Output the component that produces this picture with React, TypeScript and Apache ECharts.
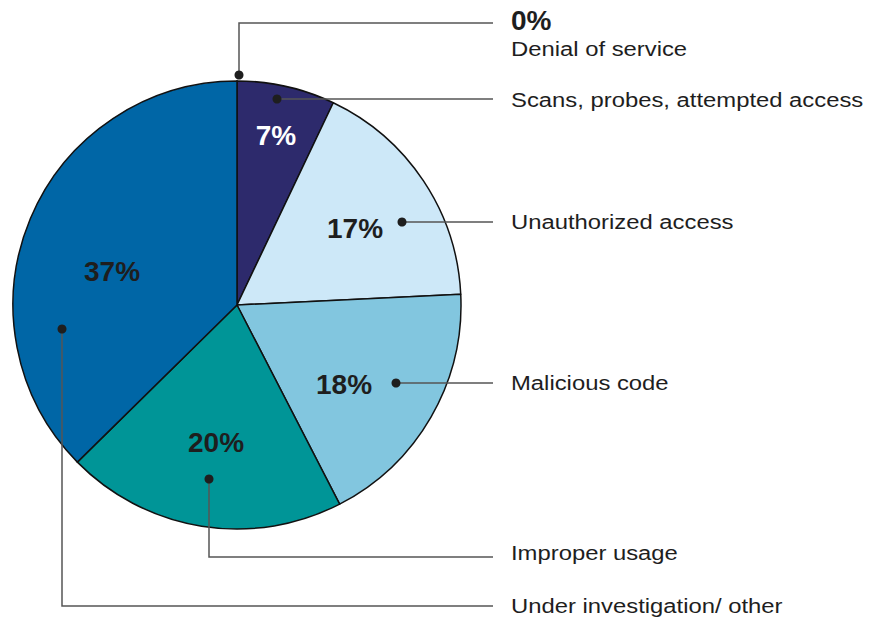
import React, { useEffect, useRef } from "react";
import * as echarts from "echarts";

// ---- data ----
const categories = [
  "Denial of service",
  "Scans, probes, attempted access",
  "Unauthorized access",
  "Malicious code",
  "Improper usage",
  "Under investigation/ other",
];
const values = [0, 7, 17, 18, 20, 37];
const sliceColors = ["#2d2a6c", "#2d2a6c", "#cde8f8", "#82c6df", "#009597", "#0066a6"];
const pctLabels = values.map((v) => v + "%");

// ---- layout (annotation positions only) ----
const PIE_CENTER = [237, 305];
const PIE_RADIUS = 224;
const pctPos = [
  [511, 20],
  [276, 135],
  [355, 228],
  [344, 384],
  [216, 442],
  [112, 271],
];
const pctColor = ["#1e1e1e", "#ffffff", "#1e1e1e", "#1e1e1e", "#1e1e1e", "#1e1e1e"];
const dotPos = [
  [239, 75],
  [277, 99],
  [402, 222],
  [396, 383],
  [209, 479],
  [62, 329],
];
const leaderPaths = [
  [[239, 75], [239, 23], [493, 23]],
  [[277, 99], [493, 99]],
  [[402, 222], [493, 222]],
  [[396, 383], [493, 383]],
  [[209, 479], [209, 557], [493, 557]],
  [[62, 329], [62, 606], [493, 606]],
];
const nameY = [49, 100, 222, 383, 553, 606];
const LABEL_X = 511;
const FONT = "'Liberation Sans', Arial, Helvetica, sans-serif";

export default function App() {
  const ref = useRef<HTMLDivElement>(null);
  useEffect(() => {
    if (!ref.current) return;
    const chart = echarts.init(ref.current, undefined, { renderer: "svg" });
    const graphics: any[] = [];
    leaderPaths.forEach((pts) => {
      graphics.push({
        type: "polyline",
        z: 10,
        silent: true,
        shape: { points: pts },
        style: { stroke: "#555555", lineWidth: 1.5, fill: null },
      });
    });
    dotPos.forEach((p) => {
      graphics.push({
        type: "circle",
        z: 11,
        silent: true,
        shape: { cx: p[0], cy: p[1], r: 4.5 },
        style: { fill: "#1e1e1e" },
      });
    });
    categories.forEach((c, i) => {
      graphics.push({
        type: "text",
        z: 12,
        silent: true,
        x: LABEL_X,
        y: nameY[i],
        scaleX: 1.135,
        style: {
          text: c,
          x: 0,
          y: 0,
          fill: "#1e1e1e",
          font: `21px ${FONT}`,
          textAlign: "left",
          textVerticalAlign: "middle",
        },
      });
    });
    pctLabels.forEach((t, i) => {
      graphics.push({
        type: "text",
        z: 12,
        silent: true,
        x: pctPos[i][0],
        y: pctPos[i][1],
        style: {
          text: t,
          x: 0,
          y: 0,
          fill: pctColor[i],
          font: `bold 28px ${FONT}`,
          textAlign: i === 0 ? "left" : "center",
          textVerticalAlign: "middle",
        },
      });
    });

    chart.setOption({
      animation: false,
      backgroundColor: "#ffffff",
      textStyle: { fontFamily: FONT },
      series: [
        {
          type: "pie",
          center: PIE_CENTER,
          radius: PIE_RADIUS,
          startAngle: 90,
          clockwise: true,
          silent: true,
          avoidLabelOverlap: false,
          label: { show: false },
          labelLine: { show: false },
          emphasis: { disabled: true },
          itemStyle: { borderColor: "#111111", borderWidth: 1.5 },
          data: categories.map((c, i) => ({
            name: c,
            value: values[i],
            itemStyle: { color: sliceColors[i] },
          })),
        },
      ],
      graphic: graphics,
    });
    return () => chart.dispose();
  }, []);
  return (
    <div
      ref={ref}
      style={{ position: "fixed", left: 0, top: 0, width: 874, height: 620 }}
    />
  );
}
